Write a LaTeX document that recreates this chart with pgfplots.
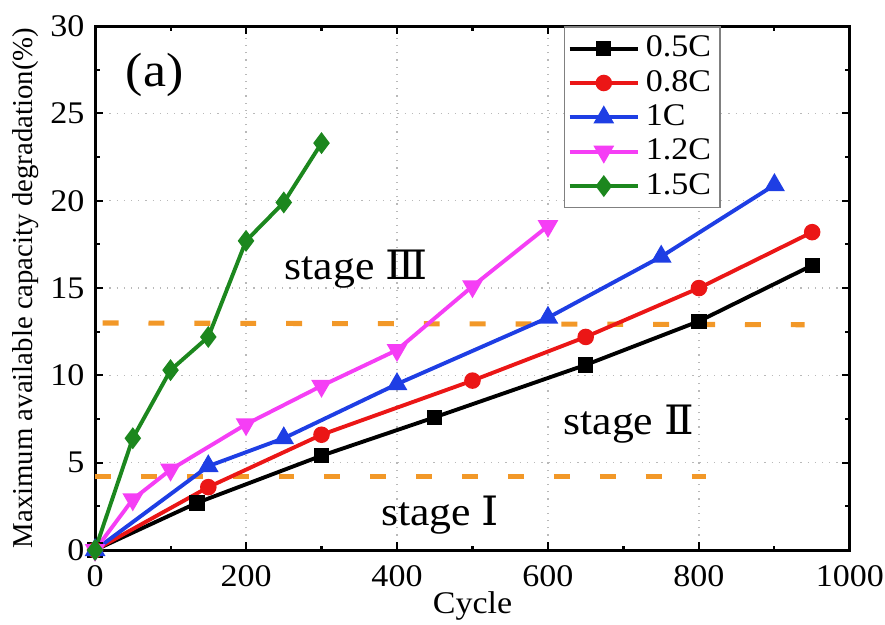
\documentclass[border=0pt]{standalone}
\usepackage{fontspec}
\setmainfont{Liberation Serif}[FakeStretch=1.08]
\newfontfamily\plainserif{Liberation Serif}
\newfontfamily\romfont{DejaVu Serif}[FakeStretch=1.08]
\usepackage{pgfplots}
\pgfplotsset{compat=1.18}

\definecolor{cRed}{RGB}{235,22,22}
\definecolor{cBlue}{RGB}{30,62,228}
\definecolor{cPink}{RGB}{245,62,245}
\definecolor{cGreen}{RGB}{28,135,30}
\definecolor{cOrange}{RGB}{242,152,40}

\begin{document}
\begin{tikzpicture}
    % page = 885x626 px at 1/3 pt per px
    \useasboundingbox (-31.7pt,-25pt) rectangle (263.4pt,183.4pt);
    \begin{axis}[
            at={(0,0)}, anchor=south west,
            scale only axis,
            width=251.7pt, height=174.7pt,
            xmin=0, xmax=1000, ymin=0, ymax=30,
            xtick={0,200,...,1000}, ytick={0,5,...,30},
            minor x tick num=1, minor y tick num=1,
            tick align=inside,
            major tick length=2.8pt, minor tick length=1.5pt,
            tick style={black, line width=0.7pt},
            axis line style={line width=1pt},
            grid=major,
            major grid style={gray!55, dotted, line width=0.4pt},
            /pgf/number format/assume math mode=true,
            /pgf/number format/1000 sep={},
            ticklabel style={font=\fontsize{10.5}{12}\selectfont},
            xticklabel style={yshift=-1.5pt},
            xlabel={Cycle},
            ylabel={Maximum available capacity degradation(\%)},
            xlabel style={font=\fontsize{10.5}{12}\selectfont, yshift=5pt},
            ylabel style={font=\plainserif\fontsize{9.6}{11}\selectfont, yshift=-3pt},
            legend cell align=left,
            legend style={at={(rel axis cs:0.829,1)}, anchor=north east,
                    draw=gray, line width=0.5pt, font=\fontsize{10.5}{12}\selectfont,
                    inner sep=1pt, row sep=-1pt},
            legend image code/.code={%
                    \draw[mark repeat=2, mark phase=2] plot coordinates {(0cm,0cm) (0.4cm,0cm) (0.8cm,0cm)};},
            every axis plot/.append style={line width=1.3pt},
        ]
        % stage boundaries
        \addplot[cOrange, line width=1.7pt, dash pattern=on 5.3pt off 10pt, forget plot]
        coordinates {(10,13.0) (940,12.9)};
        \addplot[cOrange, line width=1.7pt, dash pattern=on 5.3pt off 10pt, forget plot]
        coordinates {(0,4.2) (810,4.2)};

        \addplot[black, mark=square*, mark size=1.9pt]
        coordinates {(0,0) (135,2.7) (300,5.4) (450,7.6) (650,10.6) (800,13.1) (950,16.3)};
        \addlegendentry{0.5C}
        \addplot[cRed, mark=*, mark size=2.1pt]
        coordinates {(0,0) (150,3.6) (300,6.6) (500,9.7) (650,12.2) (800,15.0) (950,18.2)};
        \addlegendentry{0.8C}
        \addplot[cBlue, mark=triangle*, mark size=2.7pt]
        coordinates {(0,0) (150,4.8) (250,6.4) (400,9.5) (600,13.3) (750,16.8) (900,20.9)};
        \addlegendentry{1C}
        \addplot[cPink, mark=triangle*, mark size=2.7pt, every mark/.append style={rotate=180}]
        coordinates {(0,0) (50,2.9) (100,4.6) (200,7.2) (300,9.4) (400,11.45) (500,15.1) (600,18.55)};
        \addlegendentry{1.2C}
        \addplot[cGreen, mark=diamond*, mark size=2.6pt]
        coordinates {(0,0) (50,6.4) (100,10.3) (150,12.2) (200,17.7) (250,19.9) (300,23.3)};
        \addlegendentry{1.5C}

        \node[font=\fontsize{16}{18}\selectfont] at (axis cs:79,27.2) {(a)};
        \node[font=\fontsize{13.5}{16}\selectfont] at (axis cs:346,16.1) {stage {\romfont Ⅲ}};
        \node[font=\fontsize{13.5}{16}\selectfont] at (axis cs:707,7.2) {stage {\romfont Ⅱ}};
        \node[font=\fontsize{13.5}{16}\selectfont] at (axis cs:457,2.0) {stage {\romfont Ⅰ}};
    \end{axis}
\end{tikzpicture}
\end{document}
